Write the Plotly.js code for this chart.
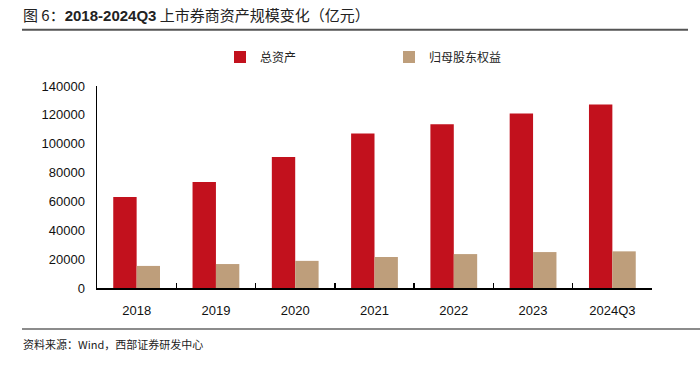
<!DOCTYPE html>
<html><head><meta charset="utf-8">
<script src="https://cdn.plot.ly/plotly-3.0.1.min.js"></script>
<style>body{margin:0;background:#fff}#chart{width:700px;height:369px}</style>
</head><body><div id="chart"></div>
<script>
const categories = ['2018','2019','2020','2021','2022','2023','2024Q3'];
const totalAssets = [63000, 73500, 90800, 107000, 113500, 121000, 127200];
const parentEquity = [15300, 16600, 18800, 21500, 23500, 24900, 25400];
const seriesNames = ['总资产', '归母股东权益'];
const yTicks = [0,20000,40000,60000,80000,100000,120000,140000];

const W = 700, H = 369;
const M = {l: 97, r: 48, t: 86, b: 81};
const pw = W - M.l - M.r, ph = H - M.t - M.b;
const px = x => (x - M.l) / pw;
const py = y => (H - M.b - y) / ph;

const cjk = '"Liberation Sans", Arial, "Noto Sans CJK SC", sans-serif';

const traces = [
  {type:'bar', name: seriesNames[0], x: categories, y: totalAssets,
   marker:{color:'#C2111D'}},
  {type:'bar', name: seriesNames[1], x: categories, y: parentEquity,
   marker:{color:'#BE9E7B'}}
];

const layout = {
  width: W, height: H,
  margin: M,
  paper_bgcolor:'#fff', plot_bgcolor:'#fff',
  barmode:'group', bargap: 0.41, bargroupgap: 0,
  font:{family: cjk, color:'#111', size:13},
  showlegend:true,
  legend:{orientation:'h', x: px(220), y: py(57), yanchor:'middle', xanchor:'left',
          entrywidth: 124, entrywidthmode:'pixels',
          font:{size:12, family:'"Noto Sans CJK SC", sans-serif', color:'#222'}},
  xaxis:{type:'category', showline:true, linecolor:'#000', linewidth:1.5,
         ticks:'inside', tickson:'boundaries', ticklen:5, tickcolor:'#000', tickwidth:1.5,
         ticklabelstandoff: 10, showgrid:false, zeroline:false,
         tickfont:{size:13, family:'"Liberation Sans", Arial, sans-serif', color:'#111'}},
  yaxis:{range:[0,140000], tickvals: yTicks, ticktext: yTicks.map(String),
         showline:true, linecolor:'#000', linewidth:1.5, ticks:'', showgrid:false, zeroline:false,
         ticklabelstandoff: 8,
         tickfont:{size:13, family:'"Liberation Sans", Arial, sans-serif', color:'#111'}},
  shapes:[
    {type:'line', xref:'paper', yref:'paper', x0:px(22), x1:px(688), y0:py(29.7), y1:py(29.7),
     line:{color:'#555', width:2}},
    {type:'line', xref:'paper', yref:'paper', x0:px(22), x1:px(700), y0:py(329), y1:py(329),
     line:{color:'#666', width:1.5}}
  ],
  annotations:[
    {xref:'paper', yref:'paper', x:px(21), y:py(15), xanchor:'left', yanchor:'middle', showarrow:false,
     text:'图 6：<span style="font-family:\'Liberation Sans\', Arial, sans-serif"><b>2018-2024Q3</b></span> 上市券商资产规模变化（亿元）',
     font:{size:15, family:'"Noto Sans CJK SC", sans-serif', color:'#222'}},
    {xref:'paper', yref:'paper', x:px(21), y:py(344), xanchor:'left', yanchor:'middle', showarrow:false,
     text:'资料来源：Wind，西部证券研发中心',
     font:{size:11, family:'"Noto Sans CJK SC", sans-serif', color:'#222'}}
  ]
};

Plotly.newPlot('chart', traces, layout, {displayModeBar:false, staticPlot:true});
</script></body></html>
